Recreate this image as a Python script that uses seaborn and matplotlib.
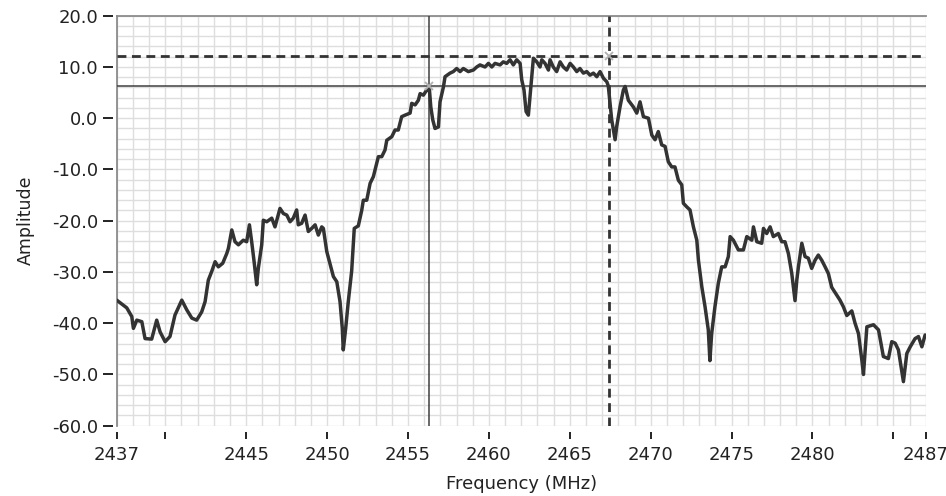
import numpy as np
import pandas as pd
import matplotlib
matplotlib.use("Agg")
import matplotlib.pyplot as plt
import seaborn as sns
from matplotlib.path import Path
from matplotlib.markers import MarkerStyle
from matplotlib.ticker import MultipleLocator

# Spectrum trace: frequency (MHz) and amplitude (dB)
freq_mhz = [
    2437.00, 2437.62, 2437.93, 2438.03, 2438.24, 2438.55, 2438.75, 2439.16, 2439.47, 2439.68,
    2439.99, 2440.29, 2440.60, 2441.02, 2441.33, 2441.64, 2441.94, 2442.25, 2442.46, 2442.66,
    2442.87, 2443.08, 2443.28, 2443.55, 2443.80, 2443.90, 2444.11, 2444.31, 2444.52, 2444.82,
    2445.03, 2445.20, 2445.34, 2445.49, 2445.65, 2445.75, 2445.96, 2446.06, 2446.27, 2446.58,
    2446.78, 2447.09, 2447.30, 2447.51, 2447.71, 2447.91, 2448.12, 2448.22, 2448.43, 2448.64,
    2448.84, 2449.05, 2449.26, 2449.46, 2449.67, 2449.77, 2449.98, 2450.39, 2450.60, 2450.80,
    2450.94, 2451.00, 2451.15, 2451.31, 2451.52, 2451.68, 2451.93, 2452.14, 2452.24, 2452.45,
    2452.66, 2452.86, 2453.07, 2453.17, 2453.38, 2453.58, 2453.69, 2454.00, 2454.20, 2454.40,
    2454.61, 2454.82, 2455.13, 2455.23, 2455.44, 2455.64, 2455.75, 2455.95, 2456.16, 2456.32,
    2456.41, 2456.53, 2456.67, 2456.88, 2456.98, 2457.19, 2457.29, 2457.60, 2457.80, 2458.01,
    2458.22, 2458.42, 2458.73, 2459.04, 2459.25, 2459.45, 2459.76, 2459.97, 2460.18, 2460.38,
    2460.69, 2460.89, 2461.10, 2461.31, 2461.51, 2461.72, 2461.93, 2462.03, 2462.17, 2462.30,
    2462.44, 2462.54, 2462.65, 2462.75, 2462.96, 2463.16, 2463.27, 2463.47, 2463.68, 2463.78,
    2463.98, 2464.19, 2464.40, 2464.60, 2464.81, 2465.02, 2465.22, 2465.43, 2465.63, 2465.84,
    2466.05, 2466.25, 2466.46, 2466.67, 2466.87, 2467.08, 2467.29, 2467.38, 2467.49, 2467.59,
    2467.80, 2467.90, 2468.11, 2468.31, 2468.42, 2468.62, 2468.93, 2469.14, 2469.34, 2469.55,
    2469.86, 2470.07, 2470.27, 2470.47, 2470.68, 2470.89, 2471.09, 2471.30, 2471.50, 2471.71,
    2471.92, 2472.02, 2472.23, 2472.43, 2472.64, 2472.85, 2472.95, 2473.16, 2473.36, 2473.56,
    2473.66, 2473.77, 2473.97, 2474.18, 2474.39, 2474.60, 2474.80, 2474.91, 2475.11, 2475.42,
    2475.73, 2475.94, 2476.25, 2476.35, 2476.56, 2476.86, 2476.97, 2477.17, 2477.38, 2477.58,
    2477.89, 2478.10, 2478.30, 2478.51, 2478.72, 2478.92, 2479.03, 2479.13, 2479.34, 2479.54,
    2479.74, 2479.95, 2480.16, 2480.36, 2480.57, 2480.78, 2480.98, 2481.19, 2481.50, 2481.70,
    2481.91, 2482.12, 2482.43, 2482.63, 2482.84, 2483.05, 2483.15, 2483.36, 2483.77, 2484.08,
    2484.38, 2484.69, 2484.90, 2485.11, 2485.31, 2485.62, 2485.83, 2486.04, 2486.34, 2486.55,
    2486.76, 2486.96,
]
amplitude_db = [
    -35.5, -37.0, -38.7, -41.0, -39.4, -39.7, -43.0, -43.1, -39.4, -41.7,
    -43.6, -42.6, -38.4, -35.5, -37.4, -39.0, -39.4, -37.8, -35.8, -31.6,
    -29.9, -28.0, -29.0, -28.3, -26.4, -25.4, -21.8, -24.1, -24.7, -23.8,
    -24.1, -20.8, -24.1, -28.0, -32.5, -29.3, -24.7, -19.9, -20.2, -19.5,
    -21.2, -17.6, -18.6, -18.9, -20.2, -19.5, -17.9, -20.8, -20.5, -18.9,
    -22.1, -21.5, -20.8, -22.8, -21.2, -21.5, -26.0, -30.9, -31.9, -35.8,
    -41.0, -45.2, -41.0, -35.8, -29.8, -21.5, -21.0, -18.0, -16.0, -16.0,
    -12.7, -11.4, -8.8, -7.5, -7.5, -6.2, -4.3, -3.6, -2.3, -2.3,
    0.3, 0.6, 1.0, 2.9, 2.6, 3.5, 4.8, 4.5, 5.5, 5.8,
    2.2, -0.3, -2.0, -1.7, 3.2, 6.1, 8.1, 8.8, 9.1, 9.7,
    9.1, 9.7, 9.1, 9.4, 10.0, 10.4, 10.0, 10.7, 10.0, 10.7,
    10.4, 11.0, 10.7, 11.4, 10.4, 11.4, 10.7, 7.5, 5.5, 1.3,
    0.6, 4.2, 8.1, 11.7, 11.0, 10.0, 11.4, 10.7, 9.4, 11.4,
    10.0, 9.1, 11.0, 10.0, 9.4, 10.7, 10.0, 9.1, 9.7, 8.8,
    9.1, 8.4, 8.8, 8.1, 9.1, 7.8, 7.1, 6.3, 2.9, -0.3,
    -4.2, -1.6, 2.3, 5.5, 6.2, 3.5, 2.2, 1.0, 3.2, 0.3,
    0.0, -3.3, -4.2, -2.6, -5.2, -5.5, -8.5, -9.5, -9.5, -12.1,
    -13.0, -16.6, -17.3, -17.9, -21.2, -23.8, -27.7, -32.9, -36.8, -41.3,
    -47.3, -42.0, -36.8, -32.2, -29.0, -29.0, -27.0, -23.1, -23.8, -25.7,
    -25.7, -23.1, -23.8, -21.2, -24.1, -24.4, -21.5, -22.5, -21.2, -23.1,
    -22.5, -24.1, -24.1, -26.4, -30.3, -35.6, -31.6, -29.0, -24.4, -27.0,
    -27.3, -29.3, -27.7, -26.7, -27.7, -29.0, -30.3, -33.0, -34.5, -35.5,
    -36.8, -38.5, -37.6, -40.0, -42.0, -47.2, -50.0, -40.7, -40.3, -41.3,
    -46.5, -46.9, -43.6, -43.9, -45.2, -51.4, -45.9, -44.6, -43.0, -42.6,
    -44.6, -42.3,
]

# Cursor positions (frequency MHz, amplitude dB)
cursor_solid = (2456.3, 6.3)
cursor_dashed = (2467.4, 12.1)

# Axis ticks
x_ticks = [2437, 2440, 2445, 2450, 2455, 2460, 2465, 2470, 2475, 2480, 2485, 2487]
x_tick_labels = ["2437", "", "2445", "2450", "2455", "2460", "2465", "2470",
                 "2475", "2480", "", "2487"]
y_ticks = [-60, -50, -40, -30, -20, -10, 0, 10, 20]

sns.set_style("white")
plt.rcParams["font.family"] = ["DejaVu Sans"]
plt.rcParams["axes.unicode_minus"] = False

fig = plt.figure(figsize=(9.46, 4.96), dpi=100)
ax = fig.add_axes([0.1234, 0.1417, 0.8552, 0.8266])

df = pd.DataFrame({"Frequency (MHz)": freq_mhz, "Amplitude": amplitude_db})

ax.set_xlim(2437, 2487)
ax.set_ylim(-60, 20)

# Fine grid: 1 MHz by 2 dB
ax.xaxis.set_minor_locator(MultipleLocator(1))
ax.yaxis.set_minor_locator(MultipleLocator(2))
ax.grid(which="both", color="#dedede", linewidth=1.0, zorder=0)
ax.set_axisbelow(True)

sns.lineplot(data=df, x="Frequency (MHz)", y="Amplitude", ax=ax,
             color="#333333", linewidth=2.5, estimator=None, sort=False, zorder=4)

# Cursors
ax.axvline(cursor_solid[0], color="#404040", linewidth=1.1, zorder=3)
ax.axhline(cursor_solid[1], color="#404040", linewidth=1.1, zorder=3)
ax.axvline(cursor_dashed[0], color="#333333", linewidth=2.0, linestyle=(0, (3.2, 2.0)), zorder=5)
ax.axhline(cursor_dashed[1], color="#333333", linewidth=2.0, linestyle=(0, (3.2, 2.0)), zorder=5)
for cx, cy in (cursor_solid, cursor_dashed):
    ax.plot([cx], [cy], marker="x", color="#b0b0b0", markersize=6, mew=1.3, zorder=6)

ax.set_xticks(x_ticks)
ax.set_xticklabels(x_tick_labels)
ax.set_yticks(y_ticks)
ax.set_yticklabels([f"{v:.1f}" for v in y_ticks])

ax.tick_params(axis="both", which="major", labelsize=13, labelcolor="#222222")
ax.tick_params(axis="y", which="major", length=0, pad=13.5)
ax.tick_params(axis="x", which="major", length=0, pad=14.5)
ax.tick_params(which="minor", length=0)

# Detached tick dashes, drawn a few pixels away from the plot edge
ymark = MarkerStyle(Path([(-1.0, 0.0), (-0.3, 0.0)]))
xmark = MarkerStyle(Path([(0.0, -1.0), (0.0, -0.45)]))
for t in ax.yaxis.get_major_ticks():
    t.tick1line.set_marker(ymark)
    t.tick1line.set_markersize(20)
    t.tick1line.set_markeredgewidth(1.4)
    t.tick1line.set_markeredgecolor("#222222")
    t.tick1line.set_visible(True)
for t in ax.xaxis.get_major_ticks():
    t.tick1line.set_marker(xmark)
    t.tick1line.set_markersize(18)
    t.tick1line.set_markeredgewidth(1.4)
    t.tick1line.set_markeredgecolor("#222222")
    t.tick1line.set_visible(True)

for side in ("right", "bottom"):
    ax.spines[side].set_visible(False)
for side in ("top", "left"):
    ax.spines[side].set_color("#8c8c8c")
    ax.spines[side].set_linewidth(1.3)

ax.set_xlabel("Frequency (MHz)", fontsize=13, color="#222222", labelpad=8)
ax.set_ylabel("Amplitude", fontsize=12.5, color="#222222", labelpad=12)

fig.savefig("out.png", dpi=100, facecolor="white")
